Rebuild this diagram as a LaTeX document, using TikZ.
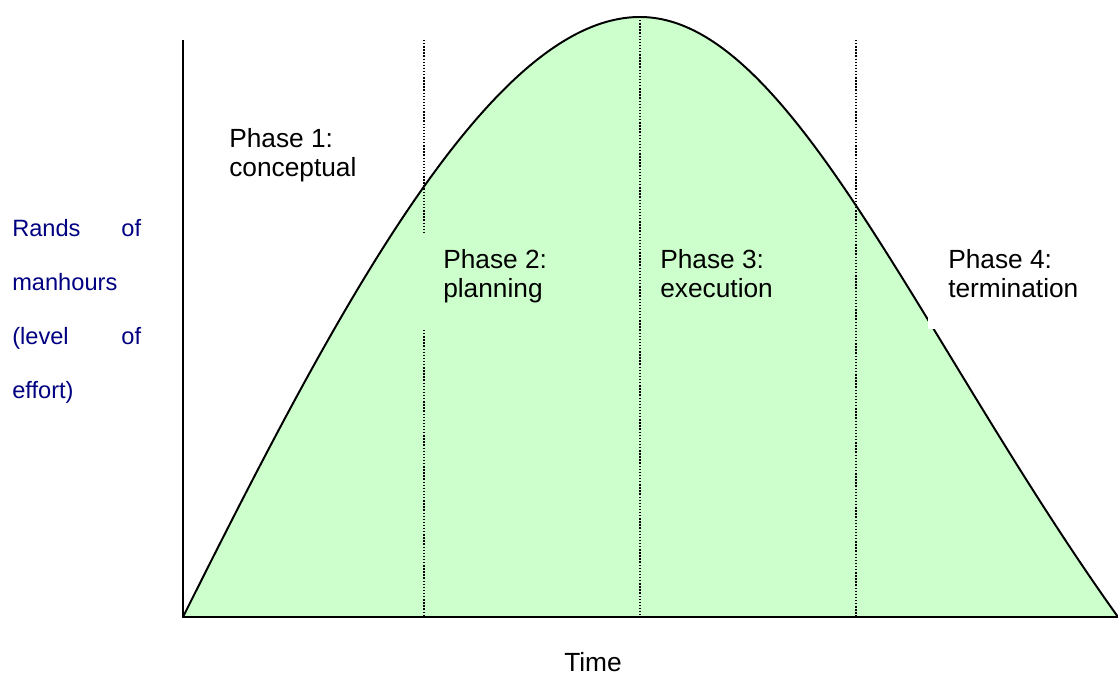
\documentclass[tikz,border=0pt]{standalone}
\usepackage{fontspec}
\setmainfont{Liberation Sans}
\usetikzlibrary{positioning}

\definecolor{effortgreen}{RGB}{204,255,204}
\definecolor{effortblue}{RGB}{0,0,128}

\tikzset{
    phase/.style={anchor=north west, inner sep=0pt, align=left,
        font=\fontsize{18.7}{20.6}\selectfont},
    ylab/.style={anchor=north west, inner sep=0pt, align=left, text=effortblue,
        font=\fontsize{16.8}{38.4}\selectfont},
    divider/.style={line width=1pt, dash pattern=on 1pt off 1.2pt},
    axis/.style={line width=1.4pt}
}

\begin{document}
\begin{tikzpicture}[x=0.025cm, y=-0.025cm]
        \useasboundingbox (0,0) rectangle (1118,675);

        \coordinate (origin) at (183,617);
        \coordinate (peak) at (640,17);
        \coordinate (tail) at (1118,617);

        % effort curve
        \fill[effortgreen] (origin) .. controls (333,317) and (490,17) .. (peak)
            .. controls (790,17) and (918,337) .. (tail) -- cycle;

        % phase dividers
        \draw[divider] (424,40) -- (424,232);
        \draw[divider] (424,330) -- (424,617);
        \foreach \x/\y in {640/17, 856/40}
        {
            \draw[divider] (\x,\y) -- (\x,617);
        }

        \draw[line width=1.4pt] (origin) .. controls (333,317) and (490,17) .. (peak)
            .. controls (790,17) and (918,337) .. (tail);

        % axes
        \coordinate (ytop) at (183,40);
        \draw[axis] (ytop) -- (origin) -- (tail);

        % box behind phase 4
        \fill[white] (928,232) rectangle (1110,329);

        \node[phase] (phaseone) at (229,128) {Phase 1:\\conceptual};
        \node[phase] (phasetwo) at (443,249) {Phase 2:\\planning};
        \node[phase] (phasethree) at (660,249) {Phase 3:\\execution};
        \node[phase] (phasefour) at (948,249) {Phase 4:\\termination};

        \node[ylab] (ylabel) at (12,219) {\makebox[3.22cm][s]{Rands of}\\manhours\\
            \makebox[3.22cm][s]{(level of}\\effort)};

        \node[phase, anchor=base] (time) at (593,671) {Time};
    \end{tikzpicture}
\end{document}
